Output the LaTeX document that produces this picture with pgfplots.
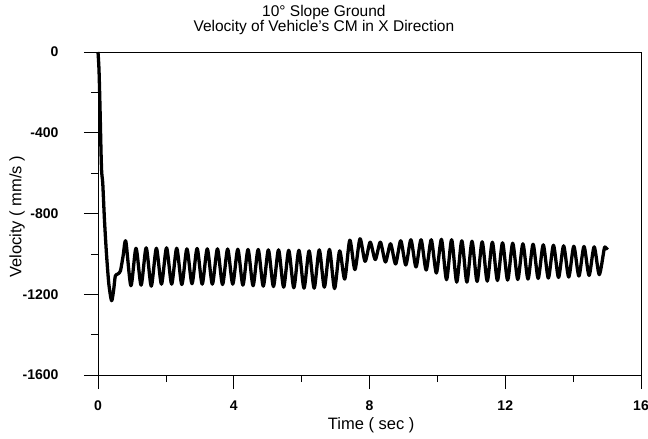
\documentclass[border=0pt]{standalone}
\usepackage{pgfplots}
\pgfplotsset{compat=1.18}
\usepackage{fontspec}
\setmainfont{Liberation Sans}

\begin{document}
\begin{tikzpicture}
\path[use as bounding box] (-98bp,-64bp) rectangle (550bp,375bp);
\begin{axis}[
  at={(0,0)}, anchor=south west,
  scale only axis,
  width=543bp, height=323bp,
  xmin=0, xmax=16, ymin=-1600, ymax=0,
  axis line style={line width=0.6pt},
  xtick={0,4,8,12,16}, xticklabels={0,4,8,12,16},
  minor xtick={2,6,10,14},
  ytick={-1600,-1200,-800,-400,0}, yticklabels={-1600,-1200,-800,-400,0},
  minor ytick={-1400,-1000,-600,-200},
  xtick pos=lower, ytick pos=left,
  tick align=outside,
  major tick length=14bp, minor tick length=7bp,
  tick style={line width=0.6pt, black},
  xticklabel style={font=\fontsize{14bp}{14bp}\selectfont\bfseries, anchor=center, yshift=-17bp},
  yticklabel style={font=\fontsize{14bp}{14bp}\selectfont\bfseries, anchor=east, xshift=-22bp},
  clip=false,
]
\addplot[black, line width=3.3pt, smooth, tension=0.45, line join=round] coordinates {
(0,0) (0.03,-90) (0.06,-280) (0.09,-500) (0.11,-600) (0.14,-650) (0.19,-830) (0.25,-1000) (0.32,-1150) (0.40,-1232) (0.46,-1180) (0.51,-1110) (0.58,-1100) (0.66,-1085) (0.74,-1010) (0.82,-938)
(0.97,-1158) (1.12,-972) (1.27,-1155) (1.42,-970) (1.57,-1160) (1.72,-972) (1.87,-1150) (2.02,-970)
(2.17,-1150) (2.32,-972) (2.47,-1152) (2.62,-975) (2.77,-1148) (2.92,-973) (3.07,-1150) (3.22,-975)
(3.37,-1150) (3.52,-975) (3.67,-1152) (3.82,-976) (3.97,-1150) (4.12,-977) (4.27,-1155) (4.42,-978)
(4.57,-1158) (4.72,-978) (4.87,-1160) (5.02,-980) (5.17,-1162) (5.32,-980) (5.47,-1165) (5.62,-982)
(5.77,-1168) (5.92,-982) (6.07,-1170) (6.22,-985) (6.37,-1170) (6.52,-980) (6.67,-1165) (6.82,-978)
(6.97,-1172) (7.12,-985)
(7.27,-1125) (7.42,-932) (7.57,-1078) (7.72,-925) (7.87,-1037) (8.02,-942) (8.17,-1028) (8.32,-942)
(8.47,-1040) (8.62,-950) (8.77,-1050) (8.92,-935) (9.07,-1055) (9.22,-930) (9.37,-1065) (9.52,-930)
(9.67,-1080) (9.82,-930) (9.97,-1095) (10.12,-928) (10.27,-1128) (10.42,-930) (10.57,-1140) (10.72,-935)
(10.87,-1140) (11.02,-937) (11.17,-1137) (11.32,-940) (11.47,-1135) (11.62,-942) (11.77,-1132) (11.92,-945)
(12.07,-1130) (12.22,-947) (12.37,-1127) (12.52,-950) (12.67,-1125) (12.82,-952) (12.97,-1122) (13.12,-955)
(13.27,-1120) (13.42,-957) (13.57,-1117) (13.72,-960) (13.87,-1115) (14.02,-962) (14.17,-1110) (14.32,-963)
(14.47,-1107) (14.62,-965) (14.77,-1103) (14.92,-972) (14.97,-975) (15.02,-968)
};
\node[font=\fontsize{15.5bp}{15.5bp}\selectfont, anchor=base] at (rel axis cs:0.416,1) [yshift=35bp] {10\textdegree\ Slope Ground};
\node[font=\fontsize{15.5bp}{15.5bp}\selectfont, anchor=base] at (rel axis cs:0.416,1) [yshift=20bp] {Velocity of Vehicle's CM in X Direction};
\node[font=\fontsize{16.5bp}{16.5bp}\selectfont, xshift=-81bp, rotate=90, anchor=center] at (rel axis cs:0,0.49) {Velocity ( mm/s )};
\node[font=\fontsize{16.5bp}{16.5bp}\selectfont, anchor=center] at (rel axis cs:0.503,0) [yshift=-50bp] {Time ( sec )};
\end{axis}
\end{tikzpicture}
\end{document}
